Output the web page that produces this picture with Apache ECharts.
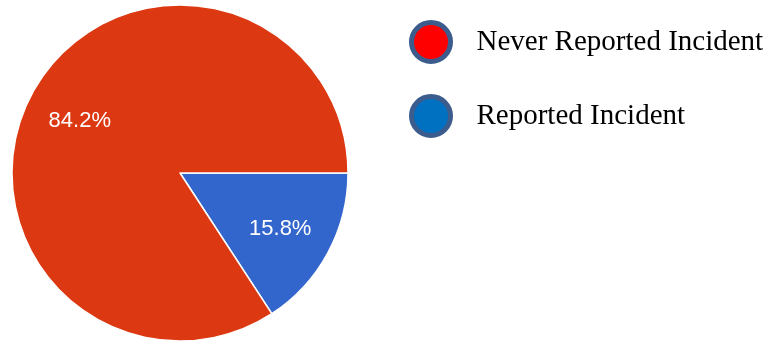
<!DOCTYPE html>
<html>
<head>
<meta charset="UTF-8"/>
<title></title>
<script src="https://cdn.jsdelivr.net/npm/echarts@6/dist/echarts.min.js"></script>
<style>
  html, body { margin:0; padding:0; background:#fff; }
  #placeholder { width:772px; height:343px; }
</style>
</head>
<body>
<div id="placeholder"></div>
<script type="text/javascript">
// slices, drawn clockwise from 3 o'clock
var categories = ['Reported Incident', 'Never Reported Incident'];
var shares = [15.8, 84.2];
var sliceColors = ['#3366cc', '#dc3912'];
// legend order and its own marker colours
var legendNames = ['Never Reported Incident', 'Reported Incident'];
var legendColors = ['#ff0000', '#0070c0'];

var myChart = echarts.init(document.getElementById('placeholder'));

var pieData = categories.map(function (c, i) {
  return { name: c, value: shares[i], itemStyle: { color: sliceColors[i] } };
});

var option = {
  animation: false,
  legend: {
    orient: 'vertical',
    left: 404,
    top: 15,
    itemWidth: 39,
    itemHeight: 39,
    itemGap: 30,
    icon: 'circle',
    selectedMode: false,
    textStyle: {
      fontFamily: 'Liberation Serif',
      fontSize: 29,
      color: '#000',
      padding: [0, 0, 0, 21]
    },
    data: legendNames.map(function (n, i) {
      return {
        name: n,
        itemStyle: { color: legendColors[i], borderColor: '#3b5c8c', borderWidth: 5 }
      };
    })
  },
  series: [
    {
      // the slices
      type: 'pie',
      center: [180, 173],
      radius: [0, 168],
      startAngle: 0,
      clockwise: true,
      silent: true,
      label: { show: false },
      labelLine: { show: false },
      itemStyle: { borderColor: '#fff', borderWidth: 1.5 },
      data: pieData
    },
    {
      // invisible copy, only used to place the percent labels further out
      type: 'pie',
      center: [180, 173],
      radius: [0, 222],
      startAngle: 0,
      clockwise: true,
      silent: true,
      itemStyle: { color: 'transparent' },
      label: {
        show: true,
        position: 'inside',
        offset: [0, 2],
        formatter: function (p) { return p.value.toFixed(1) + '%'; },
        fontFamily: 'Liberation Sans',
        fontSize: 22,
        color: '#fff'
      },
      labelLine: { show: false },
      data: categories.map(function (c, i) { return { name: c, value: shares[i] }; })
    }
  ]
};
myChart.setOption(option, true);
</script>
</body>
</html>
